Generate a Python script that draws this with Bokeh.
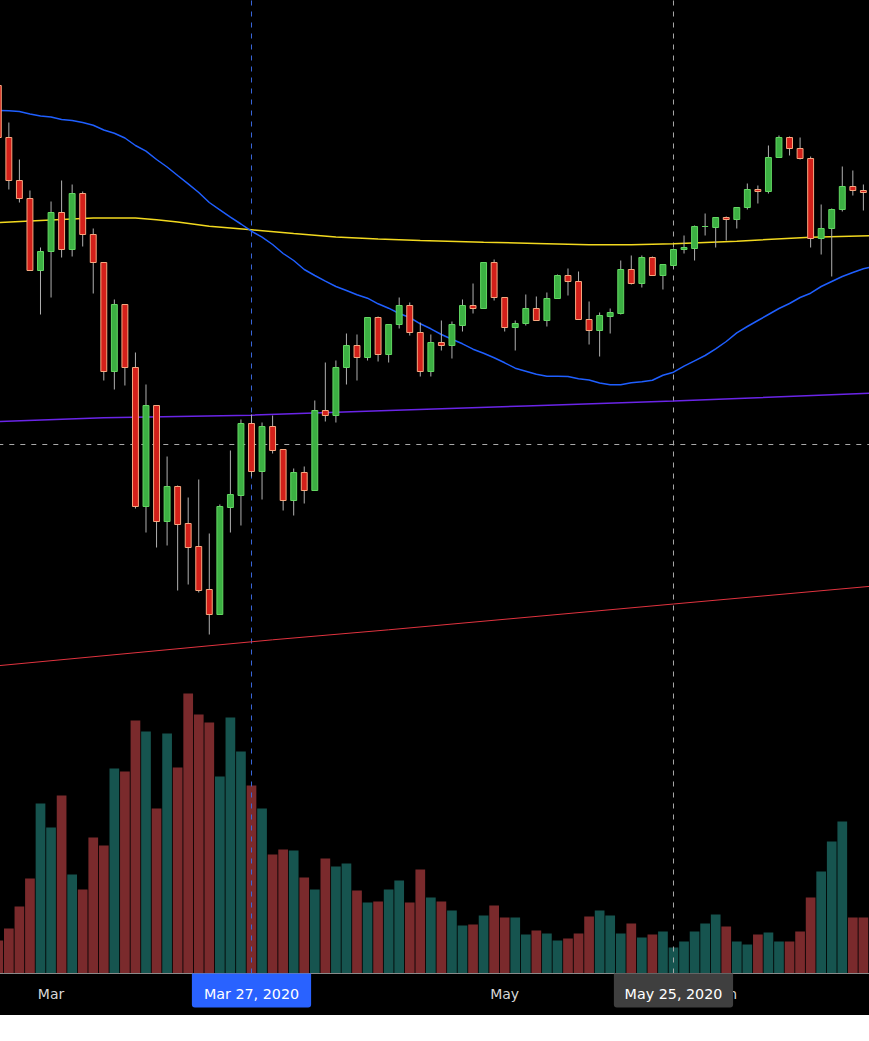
from bokeh.plotting import figure
from bokeh.models import Range1d, FixedTicker, ColumnDataSource
from bokeh.embed import file_html
from bokeh.resources import INLINE

open_p = [915,863,820,802,730,749,788,751,807,766,738,629,696,633,494,595,479,514,477,454,411,386,493,505,577,529,574,551,500,528,510,590,585,633,655,643,683,646,676,695,668,629,658,655,675,695,692,738,703,673,677,692,680,702,725,719,681,670,684,687,731,717,743,725,735,751,752,774,773,783,781,793,811,809,843,863,852,842,762,772,791,814,810,808]
close_p = [863,820,802,730,749,788,751,807,766,738,629,696,633,494,595,479,514,476,453,410,386,494,506,577,529,574,550,500,528,510,590,585,633,655,643,683,646,676,695,668,629,658,655,676,695,692,738,703,673,677,692,680,702,725,719,681,670,685,688,731,717,743,725,736,751,753,774,774,783,781,793,811,809,843,863,852,842,762,772,791,814,810,808,800]
high_p = [915,878,841,810,753,799,820,816,809,772,738,701,696,648,616,595,544,515,503,521,467,496,550,581,586,578,585,551,532,534,600,638,640,667,666,683,684,676,703,698,678,666,680,679,701,717,738,741,703,680,706,704,708,726,732,729,699,688,692,740,745,745,744,736,752,765,775,787,783,784,793,817,815,855,865,864,863,844,796,792,834,830,816,812]
low_p = [863,811,798,730,686,703,743,744,754,707,620,611,615,492,468,453,455,410,416,408,366,386,468,475,524,501,547,490,485,497,510,579,578,616,620,640,639,638,672,665,624,624,650,642,669,687,692,700,669,650,675,680,674,702,705,681,656,644,667,686,716,713,725,711,733,747,740,765,753,760,772,791,797,807,843,845,841,753,746,724,789,805,790,795]
volume = [33,45,67,95,170,146,178,99,84,136,128,205,202,253,242,165,240,206,280,259,251,197,256,222,188,165,119,124,123,96,84,115,107,110,83,71,72,84,93,71,104,76,72,63,48,49,58,68,56,56,39,43,40,33,35,40,57,63,58,40,50,36,39,42,26,32,42,50,59,47,32,29,39,41,32,32,42,76,102,132,152,56,56,47]
ma_blue = [890,889.7,889,886.5,884.5,883.5,881,880,878,875.3,870.5,867.3,862.5,855,849.3,841,833.5,825,816.7,808,798,790.7,783.3,776.5,769.3,763.3,756,747,740,731,725,719.3,714,710,705.7,702.3,696.7,692.3,687,683,676.7,671.7,666,661.3,656.7,651.3,647.3,642.7,637.7,632.3,629.3,626.3,624.3,624.3,624,621.7,620.5,617.5,615.7,615.7,617.7,618.7,620.3,625.3,628.3,634.3,639.7,645,651.7,659,667.7,674,680,686,692,697,703,707.3,714,719,724,728,731.7,734]
ma_yellow_bar = [0,4,9,13,15,17,20,24,28,32,36,40,46,51,56,60,64,70,77,83]
ma_yellow = [778,780,782.5,782.5,780.8,778.5,774.3,770.7,767,763.5,761.5,760,758.3,757,755.8,755.7,756.7,759.3,763.3,765]
ma_purple_bar = [0,10,24,37,50,64,83]
ma_purple = [579,582.7,585.3,590,594.5,599.5,607.5]
ma_red_bar = [0,26,37,64,83]
ma_red = [334.8,360.7,370.7,396.5,414.5]
tick_bars = [5,48,69]
tick_labels = ["Mar","May","Jun"]
cross_bar_active = 24
cross_bar_other = 64
cross_price = 556
tag_active = "Mar 27, 2020"
tag_other = "May 25, 2020"

bars = list(range(len(open_p)))
up = [c >= o for o, c in zip(open_p, close_p)]
src = ColumnDataSource(dict(
    x=bars, open=open_p, close=close_p, high=high_p, low=low_p, vol=volume,
    fill=["#3cb043" if u else "#d3201a" for u in up],
    edge=["#63d763" if u else "#f7a880" for u in up],
    volc=["#16544f" if u else "#7a2a2c" for u in up],
))

PRICE_FRAME_BOTTOM, PRICE_AXIS, PRICE_TOP = -15, 27, 1001
p = figure(width=870, height=1016, output_backend="svg", toolbar_location=None,
           x_range=Range1d(0.1137, 82.58), y_range=Range1d(PRICE_FRAME_BOTTOM, PRICE_TOP),
           x_axis_location="below", y_axis_location=None,
           min_border=0, min_border_bottom=0, min_border_left=0, min_border_right=0, min_border_top=0,
           background_fill_color="black", border_fill_color="black", outline_line_color=None,
           margin=(-1, 0, 0, -1))
p.grid.visible = False
p.extra_y_ranges = {"vol": Range1d(-42, 974)}

ax = p.xaxis[0]
ax.fixed_location = PRICE_AXIS
ax.ticker = FixedTicker(ticks=tick_bars)
ax.major_label_overrides = dict(zip(tick_bars, tick_labels))
ax.major_tick_line_color = None
ax.minor_tick_line_color = None
ax.axis_line_color = "#8a8a8a"
ax.axis_line_width = 1
ax.major_label_text_color = "#d6d6d6"
ax.major_label_text_font = "DejaVu Sans"
ax.major_label_text_font_size = "14px"
ax.major_label_standoff = 6

p.vbar(x="x", width=0.92, top="vol", bottom=0, y_range_name="vol", source=src,
       fill_color="volc", line_color=None)

p.line([cross_bar_active]*2, [PRICE_AXIS, PRICE_TOP], line_color="#3a68dc", line_width=1, line_dash=[5, 6])
p.line([cross_bar_other]*2, [PRICE_AXIS, PRICE_TOP], line_color="#a8a8a8", line_width=1, line_dash=[5, 6])
p.line([bars[0], bars[-1]], [cross_price]*2, line_color="#a8a8a8", line_width=1, line_dash=[5, 6])

p.line(ma_purple_bar, ma_purple, line_color="#6a25e8", line_width=1.5)
p.line(ma_red_bar, ma_red, line_color="#e0333f", line_width=1)
p.line(ma_yellow_bar, ma_yellow, line_color="#f2d91f", line_width=1.5)
p.line(bars, ma_blue, line_color="#1f5fff", line_width=1.5)

p.segment("x", "high", "x", "low", source=src, line_color="#b0b0b0", line_width=1)
p.vbar(x="x", width=0.56, top="open", bottom="close", source=src,
       fill_color="fill", line_color="edge", line_width=1)

for bar, text, col in [(cross_bar_active, tag_active, "#2962ff"), (cross_bar_other, tag_other, "#3f3f3f")]:
    p.vbar(x=[bar], width=11.3, top=[PRICE_AXIS], bottom=[PRICE_AXIS - 34], fill_color=col, line_color=None,
           border_radius=(0, 0, 3, 3), level="overlay")
    p.text(x=[bar], y=[PRICE_AXIS - 20], text=[text], text_color="white", text_font={"value": "DejaVu Sans"},
           text_font_size="14.3px", text_align="center", text_baseline="middle", level="overlay")

open("out.html", "w").write(file_html(p, INLINE))
